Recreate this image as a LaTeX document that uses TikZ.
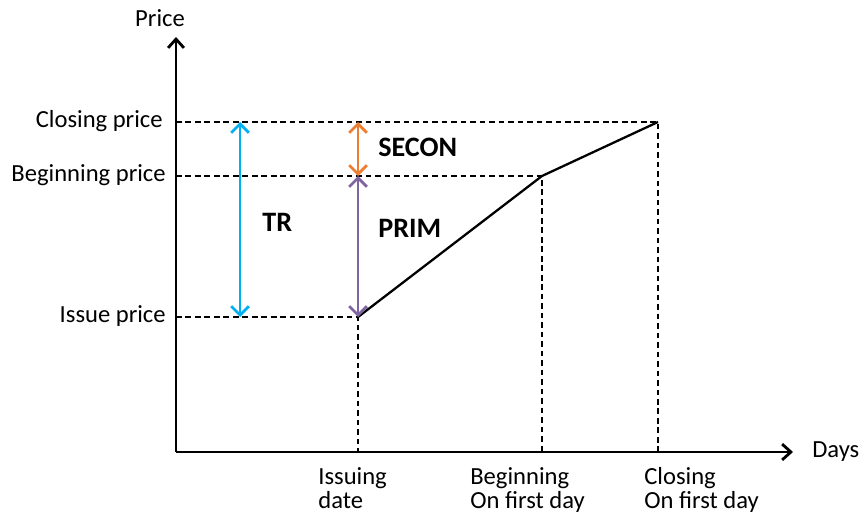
\documentclass[tikz,border=0pt]{standalone}
\usepackage{fontspec}
\setmainfont{Carlito}
\usetikzlibrary{arrows.meta}
\definecolor{trblue}{RGB}{0,176,240}
\definecolor{seconorange}{RGB}{237,125,49}
\definecolor{primpurple}{RGB}{128,100,162}
\tikzstyle{axis} = [line width=1.6pt, -{Straight Barb[length=5pt,width=9pt]}]
\tikzstyle{guide} = [dashed, line width=0.7pt, dash pattern=on 3.2pt off 2.2pt]
\tikzstyle{span} = [line width=1.6pt, {Straight Barb[length=5pt,width=10pt]}-{Straight Barb[length=5pt,width=10pt]}]
\tikzstyle{pricelabel} = [anchor=east, inner sep=0pt]
\tikzstyle{daylabel} = [anchor=north west, align=left, inner sep=0pt]
\tikzstyle{spanlabel} = [anchor=west, inner sep=0pt, font=\fontsize{16}{18}\selectfont\bfseries]

\begin{document}
\begin{tikzpicture}[x=0.02cm, y=-0.02cm, font=\fontsize{14}{13.6}\selectfont]
\useasboundingbox (0,0) rectangle (859,513);

% points of the price path
\coordinate (origin) at (176,452);
\coordinate (issue) at (358,317);
\coordinate (begin) at (542,176);
\coordinate (close) at (658,122);

% axes
\coordinate (ytop) at (176,37);
\coordinate (xend) at (793,452);
\draw [axis] (origin) -- (ytop);
\draw [axis] (origin) -- (xend);
\node (price) at (160,18) {Price};
\node (days) [anchor=west, inner sep=0pt] at (812,452) {Days};

% guide lines
\draw [guide] (issue -| origin) -- (issue) -- (issue |- origin);
\draw [guide] (begin -| origin) -- (begin) -- (begin |- origin);
\draw [guide] (close -| origin) -- (close) -- (close |- origin);

% price path
\draw [line width=1.3pt, line join=round] (issue) -- (begin) -- (close);

% price labels
\node (closelbl) [pricelabel] at (163,121) {Closing price};
\node (beginlbl) [pricelabel] at (166,175) {Beginning price};
\node (issuelbl) [pricelabel] at (166,316) {Issue price};

% day labels
\node (issuingdate) [daylabel] at (318,467) {Issuing\\date};
\node (beginday) [daylabel] at (470,467) {Beginning\\On first day};
\node (closeday) [daylabel] at (644,467) {Closing\\On first day};

% spans
\coordinate (trtop) at (240,122);
\coordinate (trbot) at (240,317);
\draw [span, trblue] (trtop) -- (trbot);
\draw [span, seconorange] (issue |- close) -- (issue |- begin);
\draw [span, primpurple] (issue |- begin) -- (issue);
\node (tr) [spanlabel] at (262,222) {TR};
\node (secon) [spanlabel] at (378,147) {SECON};
\node (prim) [spanlabel] at (378,228) {PRIM};

\end{tikzpicture}
\end{document}
